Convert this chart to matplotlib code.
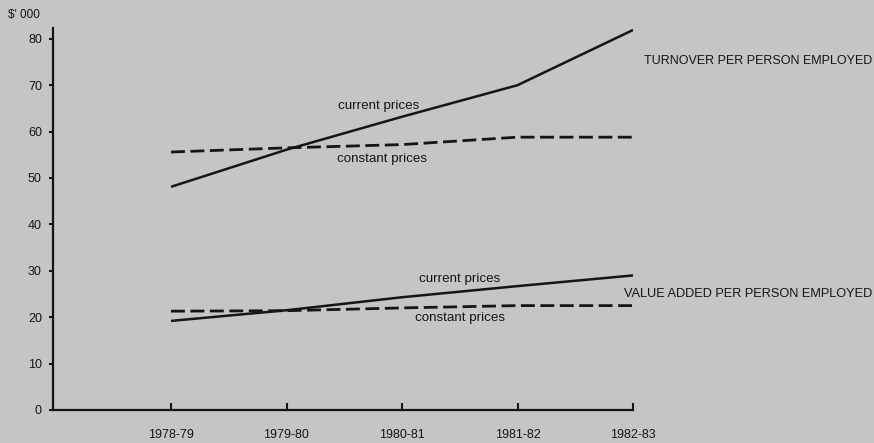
import matplotlib
matplotlib.use("Agg")
import matplotlib.pyplot as plt

years = ["1978-79", "1979-80", "1980-81", "1981-82", "1982-83"]
turnover_current = [48.1, 56.1, 63.2, 70.0, 81.9]
turnover_constant = [55.6, 56.5, 57.2, 58.8, 58.8]
value_added_current = [19.2, 21.5, 24.3, 26.7, 29.0]
value_added_constant = [21.3, 21.4, 22.0, 22.5, 22.5]
y_ticks = [0, 10, 20, 30, 40, 50, 60, 70, 80]

bg = "#c5c5c5"
ink = "#151515"
plt.rcParams['font.family'] = ['Liberation Sans', 'DejaVu Sans']

fig = plt.figure(figsize=(8.74, 4.43), dpi=100, facecolor=bg)
ax = fig.add_axes([53/874, 1-410/443, (633-53)/874, 382/443], facecolor=bg)

x = list(range(len(years)))
ax.plot(x, turnover_current, color=ink, lw=1.8, solid_capstyle='butt')
ax.plot(x, turnover_constant, color=ink, lw=2.0, dashes=(5, 2))
ax.plot(x, value_added_current, color=ink, lw=1.8, solid_capstyle='butt')
ax.plot(x, value_added_constant, color=ink, lw=2.0, dashes=(5, 2))

ax.set_xlim(-118/115.5, 4)
ax.set_ylim(0, 382/4.64)
ax.set_xticks(x)
ax.set_xticklabels(years)
ax.set_yticks(y_ticks)
ax.set_yticklabels([str(v) for v in y_ticks])

for s in ['top', 'right']:
    ax.spines[s].set_visible(False)
for s in ['left', 'bottom']:
    ax.spines[s].set_color(ink)
    ax.spines[s].set_linewidth(1.6)

ax.tick_params(axis='x', direction='in', length=5, width=1.5, color=ink,
               labelsize=9, labelcolor=ink, pad=14)
ax.tick_params(axis='y', direction='out', length=3, width=1.5, color=ink,
               labelsize=9, labelcolor=ink, pad=5)

fs = 9.6
ax.text(1.8, 65.5, "current prices", fontsize=fs, color=ink, ha='center', va='center')
ax.text(1.83, 54.2, "constant prices", fontsize=fs, color=ink, ha='center', va='center')
ax.text(2.5, 28.3, "current prices", fontsize=fs, color=ink, ha='center', va='center')
ax.text(2.5, 19.9, "constant prices", fontsize=fs, color=ink, ha='center', va='center')

fig.text(872/874, 1-61/443, "TURNOVER PER PERSON EMPLOYED", fontsize=9, color=ink,
         ha='right', va='center')
fig.text(872/874, 1-294/443, "VALUE ADDED PER PERSON EMPLOYED", fontsize=9.2, color=ink,
         ha='right', va='center')
fig.text(8/874, 1-15/443, "$' 000", fontsize=8.5, color=ink, ha='left', va='center')

fig.savefig("out.png", dpi=100, facecolor=bg)
